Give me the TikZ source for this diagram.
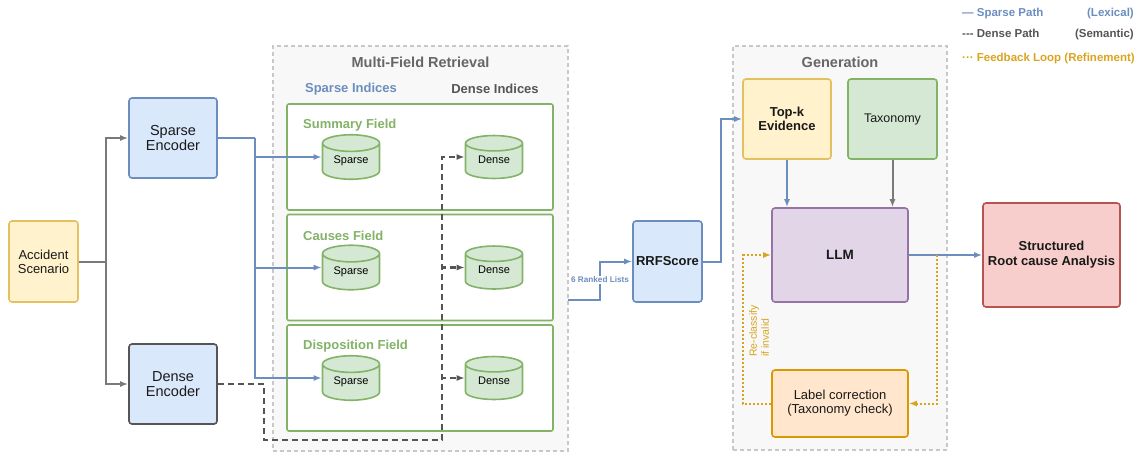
\documentclass[tikz,border=0pt]{standalone}
\usepackage{fontspec}
\setmainfont{Liberation Sans}
\usetikzlibrary{arrows.meta,shapes.geometric}

\definecolor{sparseblue}{HTML}{6C8EBF}
\definecolor{boxblue}{HTML}{DAE8FC}
\definecolor{densegray}{HTML}{555555}
\definecolor{linegray}{HTML}{7A7A7A}
\definecolor{fieldgreen}{HTML}{82B366}
\definecolor{boxgreen}{HTML}{D5E8D4}
\definecolor{boxyellow}{HTML}{FFF2CC}
\definecolor{edgeyellow}{HTML}{E3C15F}
\definecolor{boxpurple}{HTML}{E1D5E7}
\definecolor{edgepurple}{HTML}{9673A6}
\definecolor{boxred}{HTML}{F8CECC}
\definecolor{edgered}{HTML}{B85450}
\definecolor{boxorange}{HTML}{FFE6CC}
\definecolor{edgeorange}{HTML}{D79B00}
\definecolor{loopgold}{HTML}{D9A520}
\definecolor{titlegray}{HTML}{666666}
\definecolor{groupfill}{HTML}{F8F8F8}
\definecolor{groupedge}{HTML}{C8C8C8}

\begin{document}
\begin{tikzpicture}[x=1pt,y=-1pt]

    % Set the canvas size
    \useasboundingbox (0,0) rectangle (1138,456);

    % Define styles
    \tikzset{
        box/.style={draw, rounded corners=3pt, line width=1.6pt, align=center, inner sep=2pt, text=black!90},
        group/.style={draw=groupedge, fill=groupfill, line width=1.2pt, dash pattern=on 4pt off 3pt, minimum width=295pt, minimum height=405pt},
        field/.style={draw=fieldgreen, fill=white, rounded corners=2pt, line width=1.6pt, minimum width=266pt, minimum height=106pt},
        fieldlabel/.style={anchor=west, inner sep=0pt, text=fieldgreen, font=\fontsize{13}{13}\selectfont\bfseries},
        index/.style={cylinder, shape border rotate=90, aspect=0.4, anchor=shape center, draw=fieldgreen, fill=boxgreen, line width=1.6pt, minimum width=57pt, minimum height=42pt, text height=8pt, text depth=8pt, font=\fontsize{11}{11}\selectfont},
        title/.style={text=titlegray, font=\fontsize{14.5}{15}\selectfont\bfseries},
        legend/.style={inner sep=0pt, font=\fontsize{11.5}{12}\selectfont\bfseries},
        sparse/.style={-{Latex[length=8pt,width=6pt]}, sparseblue, line width=2pt},
        sparseline/.style={sparseblue, line width=2pt},
        dense/.style={-{Latex[length=8pt,width=6pt]}, densegray, line width=2.2pt, dash pattern=on 6pt off 4pt},
        denseline/.style={densegray, line width=2.2pt, dash pattern=on 6pt off 4pt},
        plain/.style={-{Latex[length=8pt,width=6pt]}, linegray, line width=2pt},
        feedback/.style={-{Latex[length=8pt,width=6pt]}, loopgold, line width=2pt, dash pattern=on 2pt off 2pt},
    }

    % Legend
    \node[legend, text=sparseblue, anchor=base west] (legsparse) at (962,16) {— Sparse Path};
    \node[legend, text=sparseblue, anchor=base east] (legsparsetag) at (1134,16) {(Lexical)};
    \node[legend, text=densegray, anchor=base west] (legdense) at (962,37) {-{}-{}- Dense Path};
    \node[legend, text=densegray, anchor=base east] (legdensetag) at (1134,37) {(Semantic)};
    \node[legend, text=loopgold, anchor=base west] (legloop) at (962,61) {··· Feedback Loop (Refinement)};

    % Input and encoders
    \node[box, draw=edgeyellow, fill=boxyellow, minimum width=69pt, minimum height=81pt, font=\fontsize{13}{14}\selectfont] (scenario) at (43.5,261.5) {Accident\\Scenario};
    \node[box, draw=sparseblue, fill=boxblue, minimum width=88pt, minimum height=80pt, font=\fontsize{14.5}{15}\selectfont] (sparseenc) at (173,138) {Sparse\\Encoder};
    \node[box, draw=densegray, fill=boxblue, minimum width=88pt, minimum height=80pt, font=\fontsize{14.5}{15}\selectfont] (denseenc) at (173,384) {Dense\\Encoder};

    \coordinate (split) at (106,261.5);
    \draw[plain] (scenario.east) -- (split) |- (sparseenc.west);
    \draw[plain] (split) |- (denseenc.west);

    % Multi-field retrieval group
    \node[group] (retrieval) at (420.5,248.5) {};
    \node[title] (retrievaltitle) at (420.5,62) {Multi-Field Retrieval};
    \node[text=sparseblue, font=\fontsize{13}{13}\selectfont\bfseries] (sparsehead) at (351,89) {Sparse Indices};
    \node[text=densegray, font=\fontsize{13}{13}\selectfont\bfseries] (densehead) at (495,89) {Dense Indices};

    % One box per field, each with a sparse and a dense index
    \foreach \name/\fld/\top in {summary/Summary/104, causes/Causes/214.5, disposition/Disposition/325} {
        \node[field] (field-\name) at (420,\top+53) {};
        \node[fieldlabel] (label-\name) at (303,\top+21) {\fld\ Field};
        \node[index] (sparse-\name) at (351,\top+53) {Sparse};
        \node[index] (dense-\name) at (494,\top+53) {Dense};
    }

    % Sparse path
    \coordinate (sparsebus) at (255,138);
    \draw[sparseline] (sparseenc.east) -- (sparsebus);
    \foreach \name in {summary,causes,disposition}
        \draw[sparse] (sparsebus) |- (sparse-\name.west |- sparse-\name.shape center);

    % Dense path
    \coordinate (densebus) at (264,384);
    \coordinate (densebottom) at (442,440);
    \draw[denseline] (denseenc.east) -- (densebus) |- (densebottom);
    \foreach \name in {summary,causes,disposition}
        \draw[dense] (densebottom) |- (dense-\name.west |- dense-\name.shape center);

    % Fusion
    \node[box, draw=sparseblue, fill=boxblue, minimum width=69pt, minimum height=81pt, font=\fontsize{13}{14}\selectfont\bfseries] (rrf) at (667.5,261.5) {RRFScore};
    \coordinate (ranked) at (568,300);
    \draw[sparse] (ranked) -- ++(32,0) |- (rrf.west);
    \node[fill=white, inner sep=1pt, text=sparseblue, font=\fontsize{8.2}{9}\selectfont\bfseries] (rankedlabel) at (600,280) {6 Ranked Lists};

    % Generation group
    \node[group, minimum width=214pt, minimum height=404pt] (generation) at (840,248) {};
    \node[title] (generationtitle) at (840,62) {Generation};
    \node[box, draw=edgeyellow, fill=boxyellow, minimum width=88pt, minimum height=80pt, font=\fontsize{13}{14}\selectfont\bfseries] (topk) at (787,119) {Top-k\\Evidence};
    \node[box, draw=fieldgreen, fill=boxgreen, minimum width=89pt, minimum height=80pt, font=\fontsize{12.5}{14}\selectfont] (taxonomy) at (892.5,119) {Taxonomy};
    \node[box, draw=edgepurple, fill=boxpurple, minimum width=136pt, minimum height=94pt, font=\fontsize{13.5}{14}\selectfont\bfseries] (llm) at (840,255) {LLM};
    \node[box, draw=edgeorange, fill=boxorange, minimum width=136pt, minimum height=67pt, font=\fontsize{13}{14}\selectfont] (correction) at (840,403.5) {Label correction\\(Taxonomy check)};
    \node[box, draw=edgered, fill=boxred, minimum width=137pt, minimum height=104pt, font=\fontsize{13}{15}\selectfont\bfseries] (structured) at (1051.5,255) {Structured\\Root cause Analysis};

    \draw[sparse] (rrf.east) -- ++(18,0) |- (topk.west);
    \draw[sparse] (topk.south) -- (topk.south |- llm.north);
    \draw[plain] (taxonomy.south) -- (taxonomy.south |- llm.north);
    \draw[sparse] (llm.east) -- (structured.west);

    % Feedback loop
    \coordinate (fbsplit) at (937,255);
    \draw[feedback] (fbsplit) |- (correction.east);
    \draw[feedback] (correction.west) -- ++(-28,0) |- (llm.west);
    \node[rotate=90, align=left, inner sep=0pt, text=loopgold, font=\fontsize{10.5}{12}\selectfont] (reclassify) at (759,331) {Re-classify\\if invalid};

\end{tikzpicture}
\end{document}
